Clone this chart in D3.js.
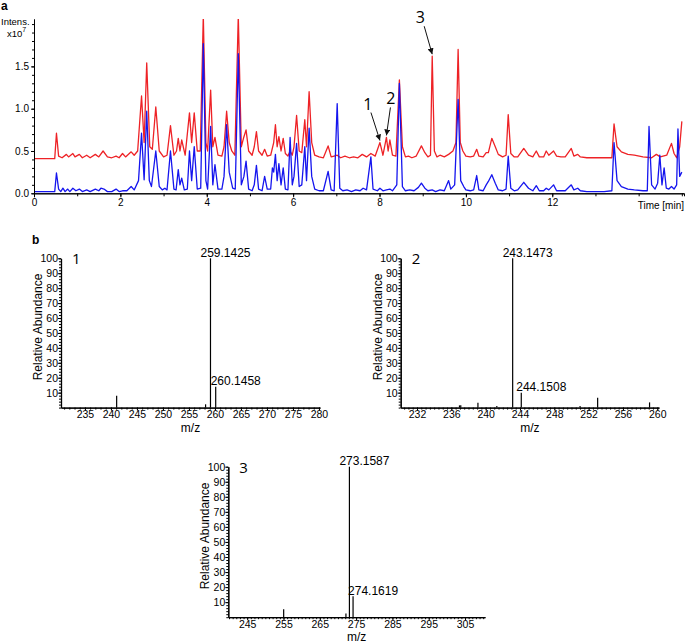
<!DOCTYPE html>
<html>
<head>
<meta charset="utf-8">
<script src="https://cdn.jsdelivr.net/npm/d3@7"></script>
<style>
  body { margin: 0; background: #fff; }
  svg { display: block; font-family: "Liberation Sans", Arial, sans-serif; }
  .axis { font-family: "Liberation Sans", Arial, sans-serif; }
  .axis path, .axis line { stroke: #000; }
  .axis text { fill: #000; }
</style>
</head>
<body>
<svg id="chart" width="685" height="643"></svg>
<script>
// chromatogram traces, [time (min), intensity (x10^7)]
const redTrace = [
  [0,0.41],[0.48,0.41],[0.52,0.71],[0.57,0.44],[0.65,0.42],[0.75,0.46],[0.8,0.43],[0.9,0.47],[0.95,0.43],
  [1.05,0.46],[1.12,0.42],[1.22,0.45],[1.3,0.42],[1.42,0.46],[1.5,0.43],[1.6,0.5],[1.7,0.43],[1.8,0.42],
  [1.9,0.44],[1.97,0.42],[2.05,0.47],[2.12,0.43],[2.25,0.49],[2.32,0.45],[2.4,0.5],[2.49,1.15],[2.55,0.6],
  [2.61,1.54],[2.68,0.55],[2.74,0.52],[2.82,1.02],[2.9,0.5],[3.0,0.43],[3.08,0.45],[3.16,0.8],[3.24,0.45],
  [3.3,0.5],[3.34,0.65],[3.38,0.5],[3.42,0.63],[3.5,0.45],[3.6,0.95],[3.65,0.6],[3.71,0.95],[3.78,0.5],
  [3.85,0.5],[3.92,2.1],[3.98,0.6],[4.02,0.5],[4.09,1.22],[4.14,0.55],[4.19,0.66],[4.26,0.45],[4.35,0.44],
  [4.4,0.55],[4.46,0.97],[4.52,0.6],[4.58,0.5],[4.65,0.45],[4.73,2.1],[4.8,0.55],[4.85,0.65],[4.91,0.75],
  [4.97,0.5],[5.05,0.45],[5.1,0.55],[5.15,0.73],[5.2,0.5],[5.28,0.45],[5.34,0.52],[5.4,0.44],[5.48,0.45],
  [5.55,0.6],[5.59,0.81],[5.63,0.55],[5.67,0.67],[5.72,0.5],[5.77,0.65],[5.82,0.47],[5.88,0.44],[5.93,0.5],
  [5.98,0.45],[6.02,0.55],[6.08,0.92],[6.14,0.5],[6.2,0.48],[6.27,0.87],[6.31,0.55],[6.37,1.2],[6.43,0.6],
  [6.5,0.45],[6.6,0.43],[6.7,0.42],[6.81,0.56],[6.88,0.43],[6.95,0.44],[7.02,0.45],[7.1,0.42],[7.2,0.44],
  [7.3,0.42],[7.4,0.43],[7.5,0.42],[7.6,0.46],[7.7,0.43],[7.8,0.47],[7.9,0.44],[8.01,0.6],[8.08,0.45],
  [8.16,0.66],[8.2,0.5],[8.24,0.63],[8.3,0.45],[8.38,0.44],[8.46,1.34],[8.53,0.55],[8.6,0.43],[8.67,0.44],
  [8.75,0.42],[8.85,0.44],[8.97,0.56],[9.05,0.48],[9.12,0.43],[9.18,0.45],[9.22,1.62],[9.27,0.5],[9.33,0.43],
  [9.4,0.45],[9.5,0.43],[9.6,0.46],[9.7,0.5],[9.77,0.6],[9.82,1.7],[9.87,0.6],[9.93,0.5],[10.0,0.44],
  [10.1,0.43],[10.18,0.44],[10.25,0.52],[10.3,0.44],[10.4,0.43],[10.47,0.48],[10.52,0.48],[10.6,0.65],
  [10.68,0.55],[10.75,0.46],[10.85,0.43],[10.93,0.45],[10.98,0.93],[11.04,0.47],[11.12,0.43],[11.2,0.43],
  [11.34,0.53],[11.45,0.45],[11.55,0.43],[11.63,0.5],[11.7,0.43],[11.8,0.43],[11.86,0.5],[11.92,0.45],
  [12.03,0.5],[12.1,0.44],[12.2,0.43],[12.3,0.43],[12.44,0.53],[12.5,0.44],[12.59,0.46],[12.65,0.43],
  [12.8,0.42],[13.0,0.42],[13.2,0.42],[13.38,0.42],[13.43,0.82],[13.5,0.55],[13.6,0.49],[13.75,0.46],
  [13.9,0.45],[14.1,0.43],[14.3,0.42],[14.41,0.46],[14.5,0.43],[14.65,0.45],[14.76,0.59],[14.82,0.47],
  [14.88,0.42],[14.95,0.55],[15.0,0.85]
];

const blueTrace = [
  [0,0.02],[0.48,0.02],[0.52,0.24],[0.57,0.05],[0.62,0.02],[0.67,0.06],[0.72,0.02],[0.78,0.05],[0.83,0.02],
  [0.9,0.06],[0.97,0.03],[1.05,0.05],[1.12,0.02],[1.22,0.04],[1.3,0.02],[1.42,0.05],[1.5,0.03],[1.55,0.06],
  [1.62,0.05],[1.7,0.02],[1.8,0.02],[1.9,0.05],[1.97,0.02],[2.05,0.03],[2.15,0.03],[2.25,0.08],[2.32,0.04],
  [2.42,0.15],[2.49,0.71],[2.55,0.16],[2.61,0.97],[2.67,0.15],[2.72,0.08],[2.82,0.5],[2.9,0.08],[2.97,0.04],
  [3.03,0.06],[3.08,0.04],[3.16,0.5],[3.24,0.05],[3.29,0.04],[3.34,0.28],[3.38,0.1],[3.42,0.18],[3.48,0.04],
  [3.55,0.05],[3.6,0.5],[3.65,0.15],[3.71,0.55],[3.78,0.05],[3.86,0.06],[3.92,1.77],[3.98,0.15],[4.02,0.05],
  [4.09,0.79],[4.14,0.1],[4.19,0.34],[4.26,0.05],[4.35,0.05],[4.4,0.2],[4.46,0.81],[4.52,0.25],[4.6,0.06],
  [4.66,0.05],[4.73,1.65],[4.8,0.1],[4.86,0.2],[4.91,0.38],[4.97,0.05],[5.05,0.03],[5.1,0.1],[5.15,0.33],
  [5.2,0.05],[5.28,0.03],[5.34,0.2],[5.4,0.05],[5.48,0.05],[5.52,0.3],[5.55,0.25],[5.59,0.46],[5.63,0.15],
  [5.67,0.35],[5.72,0.1],[5.77,0.3],[5.82,0.05],[5.88,0.04],[5.93,0.66],[5.98,0.1],[6.02,0.2],[6.08,0.59],
  [6.14,0.08],[6.2,0.1],[6.27,0.55],[6.31,0.15],[6.37,0.77],[6.43,0.2],[6.5,0.05],[6.6,0.03],[6.7,0.03],
  [6.81,0.26],[6.88,0.04],[6.95,0.03],[7.02,1.06],[7.08,0.06],[7.15,0.03],[7.25,0.04],[7.35,0.02],[7.45,0.04],
  [7.55,0.03],[7.62,0.06],[7.7,0.04],[7.8,0.43],[7.85,0.05],[7.95,0.03],[8.01,0.06],[8.08,0.03],[8.16,0.04],
  [8.24,0.05],[8.3,0.03],[8.4,0.1],[8.46,1.3],[8.53,0.08],[8.6,0.03],[8.7,0.04],[8.8,0.03],[8.9,0.07],
  [8.97,0.12],[9.05,0.06],[9.12,0.03],[9.22,0.04],[9.3,0.02],[9.4,0.04],[9.5,0.03],[9.6,0.15],[9.65,0.05],
  [9.74,0.1],[9.82,1.11],[9.88,0.15],[9.95,0.08],[10.0,0.04],[10.1,0.03],[10.18,0.04],[10.25,0.21],[10.3,0.04],
  [10.4,0.03],[10.47,0.1],[10.52,0.14],[10.6,0.22],[10.68,0.12],[10.75,0.04],[10.85,0.03],[10.93,0.05],
  [10.98,0.44],[11.04,0.06],[11.12,0.03],[11.2,0.04],[11.34,0.13],[11.45,0.06],[11.55,0.03],[11.63,0.09],
  [11.7,0.03],[11.8,0.03],[11.86,0.06],[11.92,0.04],[12.03,0.1],[12.1,0.03],[12.2,0.03],[12.3,0.03],
  [12.44,0.1],[12.5,0.04],[12.59,0.06],[12.65,0.03],[12.8,0.02],[13.0,0.02],[13.2,0.02],[13.38,0.03],
  [13.43,0.6],[13.5,0.15],[13.6,0.08],[13.75,0.05],[13.9,0.04],[14.1,0.03],[14.2,0.03],[14.24,0.79],
  [14.3,0.1],[14.38,0.05],[14.44,0.12],[14.49,0.45],[14.54,0.1],[14.59,0.3],[14.64,0.06],[14.7,0.05],
  [14.76,0.08],[14.82,0.05],[14.88,0.1],[14.91,0.76],[14.95,0.2],[15.0,0.25]
];

const timeTicks = [0, 2, 4, 6, 8, 10, 12];
const intensTicks = [0, 0.5, 1.0, 1.5];

// peaks marked by arrows on the red trace
const markedPeaks = ['1', '2', '3'];
const markedTimes = [8.01, 8.16, 9.22];
const markedValues = [0.60, 0.66, 1.62];

// mass spectra (m/z, relative abundance)
const spec1Mz = [241.1, 258.2, 259.1425, 260.1458];
const spec1Abund = [8, 2.2, 100, 14];
const spec1Ticks = [235, 240, 245, 250, 255, 260, 265, 270, 275, 280];
const spec2Mz = [236.95, 237.1, 239.1, 241.3, 243.1473, 244.1508, 251.0, 253.05, 259.1];
const spec2Abund = [1.5, 1.5, 3.3, 1, 100, 10, 1, 6.6, 3.5];
const spec2Ticks = [232, 236, 240, 244, 248, 252, 256, 260];
const spec3Mz = [255.05, 272.2, 273.1587, 274.1619];
const spec3Abund = [5.2, 2.5, 100, 14];
const spec3Ticks = [245, 255, 265, 275, 285, 295, 305];
const abundTicks = [10, 20, 30, 40, 50, 60, 70, 80, 90, 100];

const svg = d3.select('#chart');

svg.append('defs').append('marker')
    .attr('id', 'arrow')
    .attr('viewBox', '0 0 10 10')
    .attr('refX', 10).attr('refY', 5)
    .attr('markerWidth', 6).attr('markerHeight', 6)
    .attr('markerUnits', 'userSpaceOnUse')
    .attr('orient', 'auto')
    .append('path')
    .attr('d', 'M0,0 L10,5 L0,10 Z')
    .attr('fill', '#111');

const drawChromatogram = () => {
    const x = d3.scaleLinear().domain([0, 15.05]).range([34, 684]);
    const y = d3.scaleLinear().domain([0, 2.06]).range([193.3, 19]);

    svg.append('clipPath').attr('id', 'plotClip')
        .append('rect').attr('x', 34).attr('y', 19).attr('width', 651).attr('height', 176);

    const line = d3.line().x(d => x(d[0])).y(d => y(d[1]));

    const traces = svg.append('g').attr('clip-path', 'url(#plotClip)');
    traces.append('path').datum(redTrace)
        .attr('d', line).attr('fill', 'none')
        .attr('stroke', '#ee2226').attr('stroke-width', 1.3).attr('stroke-linejoin', 'round');
    traces.append('path').datum(blueTrace)
        .attr('d', line).attr('fill', 'none')
        .attr('stroke', '#1515ee').attr('stroke-width', 1.3).attr('stroke-linejoin', 'round');

    // x axis
    svg.append('g').attr('class', 'axis')
        .attr('transform', 'translate(0,193.3)')
        .call(d3.axisBottom(x).tickValues(d3.range(0, 16, 1)).tickSize(3).tickFormat(''));
    svg.append('g').attr('class', 'axis')
        .attr('transform', 'translate(0,193.3)')
        .call(d3.axisBottom(x).tickValues(timeTicks).tickSize(4).tickPadding(2).tickSizeOuter(0))
        .call(g => g.selectAll('text').attr('font-size', 10));

    // y axis
    svg.append('g').attr('class', 'axis')
        .attr('transform', 'translate(34,0)')
        .call(d3.axisLeft(y).tickValues(d3.range(0, 2.05, 0.1)).tickSize(2).tickFormat('').tickSizeOuter(0));
    svg.append('g').attr('class', 'axis')
        .attr('transform', 'translate(34,0)')
        .call(d3.axisLeft(y).tickValues(intensTicks).tickSize(3).tickPadding(2)
            .tickFormat(d3.format('.1f')).tickSizeOuter(0))
        .call(g => g.selectAll('text').attr('font-size', 10));

    svg.append('text').attr('x', 684).attr('y', 209).attr('text-anchor', 'end')
        .attr('font-size', 10).text('Time [min]');
    svg.append('text').attr('x', 1).attr('y', 25).attr('font-size', 9.5).text('Intens.');
    const mult = svg.append('text').attr('x', 7).attr('y', 36.5).attr('font-size', 9.5);
    mult.append('tspan').text('x10');
    mult.append('tspan').attr('dy', -5).attr('font-size', 7).text('7');

    // arrows to the marked peaks
    const tailDx = [-9, 4, -8];
    const labelDx = [-12, 4.5, -12];
    markedPeaks.forEach((label, i) => {
        const px = x(markedTimes[i]);
        const py = y(markedValues[i]) - 2;
        svg.append('line')
            .attr('x1', px + tailDx[i]).attr('y1', py - 28)
            .attr('x2', px).attr('y2', py)
            .attr('stroke', '#111').attr('stroke-width', 1)
            .attr('marker-end', 'url(#arrow)');
        svg.append('text')
            .attr('x', px + labelDx[i]).attr('y', py - 31)
            .attr('text-anchor', 'middle')
            .attr('font-family', '"Open Sans", sans-serif')
            .attr('font-size', 16).text(label);
    });

    svg.append('text').attr('x', 1).attr('y', 10)
        .attr('font-size', 12).attr('font-weight', 'bold').text('a');
};

const drawSpectrum = (props) => {
    const {
        left, right, top, bottom,
        domain, ticks, minorStep,
        mz, abundance, name
    } = props;

    const x = d3.scaleLinear().domain(domain).range([left, right]);
    const y = d3.scaleLinear().domain([0, 100]).range([bottom, top]);

    const g = svg.append('g');

    // minor ticks
    g.append('g').attr('class', 'axis')
        .attr('transform', `translate(0,${bottom})`)
        .call(d3.axisBottom(x)
            .tickValues(d3.range(Math.ceil(domain[0] / minorStep) * minorStep, domain[1], minorStep))
            .tickSize(2).tickFormat('').tickSizeOuter(0));
    g.append('g').attr('class', 'axis')
        .attr('transform', `translate(${left},0)`)
        .call(d3.axisLeft(y).tickValues(d3.range(0, 101, 2)).tickSize(2).tickFormat('').tickSizeOuter(0));

    // major ticks
    g.append('g').attr('class', 'axis')
        .attr('transform', `translate(0,${bottom})`)
        .call(d3.axisBottom(x).tickValues(ticks).tickSize(3).tickPadding(0).tickSizeOuter(0))
        .call(a => a.select('.domain').attr('stroke-width', 1.3))
        .call(a => a.selectAll('text').attr('font-size', 10.5));
    g.append('g').attr('class', 'axis')
        .attr('transform', `translate(${left},0)`)
        .call(d3.axisLeft(y).tickValues(abundTicks).tickSize(3).tickPadding(0).tickSizeOuter(0))
        .call(a => a.select('.domain').attr('stroke-width', 1.3))
        .call(a => a.selectAll('text').attr('font-size', 10.5));

    g.selectAll('line.peak')
        .data(mz)
        .join('line')
        .attr('class', 'peak')
        .attr('x1', d => x(d)).attr('x2', d => x(d))
        .attr('y1', y(0))
        .attr('y2', (d, i) => y(abundance[i]))
        .attr('stroke', '#000').attr('stroke-width', 1.2);

    // label the base peak and its isotope
    const base = abundance.indexOf(100);
    [base, base + 1].forEach((i, k) => {
        g.append('text')
            .attr('x', x(mz[i]) - (k === 0 ? 10 : 5))
            .attr('y', y(abundance[i]) - 1.5)
            .attr('font-size', 12)
            .text(mz[i].toFixed(4));
    });

    g.append('text')
        .attr('x', left + 11).attr('y', top + 6)
        .attr('font-family', '"Open Sans", sans-serif')
        .attr('font-size', 15).text(name);

    g.append('text')
        .attr('transform', `translate(${left - 19},${(top + bottom) / 2 - 6}) rotate(-90)`)
        .attr('text-anchor', 'middle')
        .attr('font-size', 12).text('Relative Abundance');

    g.append('text')
        .attr('x', (left + right) / 2).attr('y', bottom + 24)
        .attr('text-anchor', 'middle')
        .attr('font-size', 12).text('m/z');
};

drawChromatogram();

svg.append('text').attr('x', 32).attr('y', 244)
    .attr('font-size', 12).attr('font-weight', 'bold').text('b');

drawSpectrum({
    left: 61, right: 320, top: 258.3, bottom: 407.6,
    domain: [230.4, 280.2], ticks: spec1Ticks, minorStep: 1,
    mz: spec1Mz, abundance: spec1Abund, name: '1'
});
drawSpectrum({
    left: 400.7, right: 659, top: 258.3, bottom: 407.6,
    domain: [230.1, 260.2], ticks: spec2Ticks, minorStep: 0.5,
    mz: spec2Mz, abundance: spec2Abund, name: '2'
});
drawSpectrum({
    left: 228.3, right: 485, top: 466.7, bottom: 617.2,
    domain: [239.8, 310.5], ticks: spec3Ticks, minorStep: 1,
    mz: spec3Mz, abundance: spec3Abund, name: '3'
});
</script>
</body>
</html>
